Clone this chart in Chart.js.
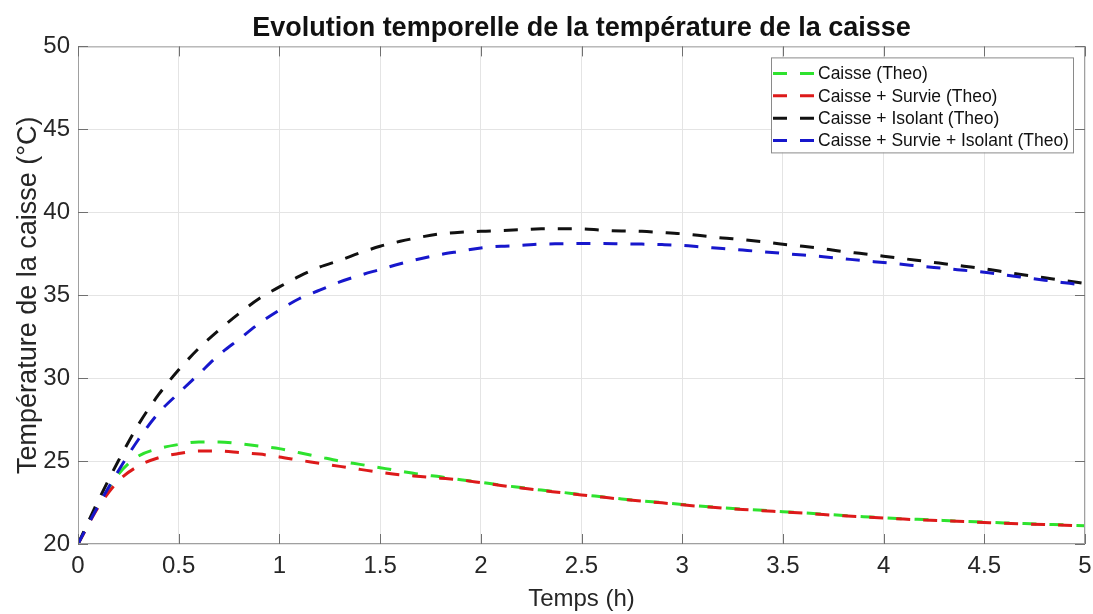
<!DOCTYPE html>
<html>
<head>
<meta charset="utf-8">
<title>Evolution temporelle de la température de la caisse</title>
<script src="https://cdn.jsdelivr.net/npm/chart.js@4.4.1/dist/chart.umd.min.js"></script>
<style>
  html, body { margin: 0; padding: 0; background: #fff; }
  #wrap { width: 1093px; height: 614px; }
</style>
</head>
<body>
<div id="wrap"><canvas id="chart" width="1093" height="614"></canvas></div>
<script>
  // Time axis (hours) and the four theoretical curves
  const temps = [0, 0.1, 0.2, 0.3, 0.4, 0.5, 0.6, 0.7, 0.8, 0.9, 1.0, 1.1, 1.2, 1.3, 1.4, 1.5, 1.6, 1.7, 1.8, 1.9,
    2.0, 2.1, 2.2, 2.3, 2.4, 2.5, 2.6, 2.7, 2.8, 2.9, 3.0, 3.1, 3.2, 3.3, 3.4, 3.5, 3.6, 3.7, 3.8, 3.9,
    4.0, 4.1, 4.2, 4.3, 4.4, 4.5, 4.6, 4.7, 4.8, 4.9, 5.0];

  const caisse = [20.0, 22.3, 24.2, 25.3, 25.75, 26.0, 26.15, 26.15, 26.05, 25.9, 25.75, 25.5, 25.25, 25.0, 24.8,
    24.6, 24.4, 24.2, 24.05, 23.88, 23.72, 23.55, 23.4, 23.25, 23.12, 22.98, 22.85, 22.72, 22.6, 22.5, 22.38,
    22.28, 22.18, 22.1, 22.03, 21.95, 21.88, 21.8, 21.72, 21.65, 21.58, 21.52, 21.47, 21.42, 21.37, 21.32,
    21.27, 21.23, 21.19, 21.15, 21.1];

  const caisseSurvie = [20.0, 22.2, 23.8, 24.7, 25.2, 25.45, 25.6, 25.6, 25.52, 25.42, 25.25, 25.05, 24.87, 24.68,
    24.5, 24.32, 24.17, 24.07, 23.97, 23.86, 23.7, 23.53, 23.38, 23.23, 23.1, 22.96, 22.83, 22.7, 22.58, 22.48,
    22.36, 22.26, 22.16, 22.08, 22.01, 21.93, 21.86, 21.78, 21.7, 21.63, 21.56, 21.5, 21.45, 21.4, 21.35, 21.3,
    21.25, 21.21, 21.17, 21.13, 21.08];

  const caisseIsolant = [20.0, 22.6, 25.0, 27.2, 29.0, 30.5, 31.8, 32.9, 33.9, 34.8, 35.5, 36.15, 36.7, 37.1,
    37.55, 37.95, 38.25, 38.5, 38.7, 38.8, 38.85, 38.9, 38.95, 39.0, 39.0, 39.0, 38.92, 38.87, 38.85, 38.78,
    38.7, 38.58, 38.45, 38.35, 38.22, 38.07, 37.95, 37.8, 37.63, 37.5, 37.35, 37.2, 37.05, 36.9, 36.75, 36.6,
    36.4, 36.22, 36.05, 35.88, 35.7];

  const caisseSurvieIsolant = [20.0, 22.3, 24.4, 26.3, 27.9, 29.1, 30.25, 31.4, 32.35, 33.3, 34.1, 34.8, 35.3,
    35.8, 36.2, 36.55, 36.9, 37.2, 37.45, 37.65, 37.85, 37.95, 38.0, 38.08, 38.1, 38.12, 38.12, 38.1, 38.08,
    38.05, 38.0, 37.9, 37.82, 37.72, 37.62, 37.52, 37.42, 37.32, 37.2, 37.08, 36.97, 36.85, 36.73, 36.62, 36.5,
    36.38, 36.22, 36.06, 35.9, 35.75, 35.6];

  const seriesLabels = ['Caisse (Theo)', 'Caisse + Survie (Theo)', 'Caisse + Isolant (Theo)', 'Caisse + Survie + Isolant (Theo)'];
  const seriesColors = ['#2ee22e', '#dd1a1a', '#111111', '#1717cc'];

  const xTickValues = [0, 0.5, 1, 1.5, 2, 2.5, 3, 3.5, 4, 4.5, 5];
  const xTickLabels = ['0', '0.5', '1', '1.5', '2', '2.5', '3', '3.5', '4', '4.5', '5'];
  const yTickValues = [20, 25, 30, 35, 40, 45, 50];
  const yTickLabels = ['20', '25', '30', '35', '40', '45', '50'];

  const FONT = '"Liberation Sans", Arial, Helvetica, sans-serif';
  const TEXT = '#262626';
  const DASH = [14, 13];

  function toPoints(values) {
    return values.map((v, i) => ({ x: temps[i], y: v }));
  }

  const allSeries = [caisse, caisseSurvie, caisseIsolant, caisseSurvieIsolant];
  const datasets = allSeries.map((vals, i) => ({
    label: seriesLabels[i],
    data: toPoints(vals),
    borderColor: seriesColors[i],
    backgroundColor: seriesColors[i],
    borderWidth: 3,
    borderDash: DASH,
    pointRadius: 0,
    fill: false,
    cubicInterpolationMode: 'monotone',
    order: allSeries.length - i   // later series drawn on top, as in the figure
  }));

  // MATLAB-like box with inward ticks on all four sides
  const axesBox = {
    id: 'axesBox',
    afterDraw(chart) {
      const { ctx, chartArea: a, scales } = chart;
      ctx.save();
      ctx.strokeStyle = '#a0a0a0';
      ctx.lineWidth = 1;
      ctx.strokeRect(a.left + 0.5, a.top + 0.5, a.right - a.left - 1, a.bottom - a.top - 1);
      ctx.strokeStyle = '#707070';
      ctx.beginPath();
      xTickValues.forEach(v => {
        const px = Math.round(scales.x.getPixelForValue(v)) + 0.5;
        ctx.moveTo(px, a.bottom); ctx.lineTo(px, a.bottom - 10);
        ctx.moveTo(px, a.top); ctx.lineTo(px, a.top + 10);
      });
      yTickValues.forEach(v => {
        const py = Math.round(scales.y.getPixelForValue(v)) + 0.5;
        ctx.moveTo(a.left, py); ctx.lineTo(a.left + 10, py);
        ctx.moveTo(a.right, py); ctx.lineTo(a.right - 10, py);
      });
      ctx.stroke();
      ctx.restore();
    }
  };

  // boxed legend in the upper right corner of the axes
  const legendBox = {
    id: 'legendBox',
    afterDraw(chart) {
      const { ctx, chartArea: a } = chart;
      const w = 302, h = 95;
      const x0 = a.right - 314, y0 = a.top + 11;
      ctx.save();
      ctx.fillStyle = '#fff';
      ctx.fillRect(x0, y0, w, h);
      ctx.strokeStyle = '#8a8a8a';
      ctx.lineWidth = 1;
      ctx.strokeRect(x0 + 0.5, y0 + 0.5, w, h);
      ctx.font = '17.5px ' + FONT;
      ctx.textBaseline = 'middle';
      chart.data.datasets.forEach((ds, i) => {
        const yy = y0 + 16 + i * 22.4;
        ctx.strokeStyle = ds.borderColor;
        ctx.lineWidth = 3;
        ctx.setLineDash(DASH);
        ctx.beginPath();
        ctx.moveTo(x0 + 2, yy);
        ctx.lineTo(x0 + 44, yy);
        ctx.stroke();
        ctx.setLineDash([]);
        ctx.fillStyle = '#111';
        ctx.fillText(ds.label, x0 + 47, yy + 1);
      });
      ctx.restore();
    }
  };

  new Chart(document.getElementById('chart'), {
    type: 'line',
    data: { datasets },
    plugins: [axesBox, legendBox],
    options: {
      responsive: false,
      animation: false,
      devicePixelRatio: 1,
      layout: { padding: { left: 0, right: 0, top: 0, bottom: 0 } },
      plugins: {
        legend: { display: false },
        tooltip: { enabled: false },
        title: {
          display: true,
          fullSize: false,
          text: 'Evolution temporelle de la température de la caisse',
          color: '#111',
          font: { family: FONT, size: 27, weight: 'bold' },
          padding: { top: 12, bottom: 2 }
        }
      },
      scales: {
        x: {
          type: 'linear',
          min: 0,
          max: 5,
          afterBuildTicks: s => { s.ticks = xTickValues.map(v => ({ value: v })); },
          afterFit: s => { s.height = 70; s.paddingLeft = 0; s.paddingRight = 8; },
          ticks: {
            color: TEXT,
            font: { family: FONT, size: 24 },
            padding: 8,
            maxRotation: 0,
            autoSkip: false,
            callback: (v, i) => xTickLabels[i]
          },
          grid: { color: '#e4e4e4', drawTicks: false },
          border: { display: false },
          title: {
            display: true,
            text: 'Temps (h)',
            color: TEXT,
            font: { family: FONT, size: 24 },
            padding: { top: 0, bottom: 0 }
          }
        },
        y: {
          type: 'linear',
          min: 20,
          max: 50,
          afterBuildTicks: s => { s.ticks = yTickValues.map(v => ({ value: v })); },
          afterFit: s => { s.width = 78; },
          ticks: {
            color: TEXT,
            font: { family: FONT, size: 24 },
            padding: 8,
            autoSkip: false,
            callback: (v, i) => yTickLabels[i]
          },
          grid: { color: '#e4e4e4', drawTicks: false },
          border: { display: false },
          title: {
            display: true,
            text: 'Température de la caisse (°C)',
            color: TEXT,
            font: { family: FONT, size: 27 },
            padding: { top: 12, bottom: 0 }
          }
        }
      }
    }
  });
</script>
</body>
</html>
